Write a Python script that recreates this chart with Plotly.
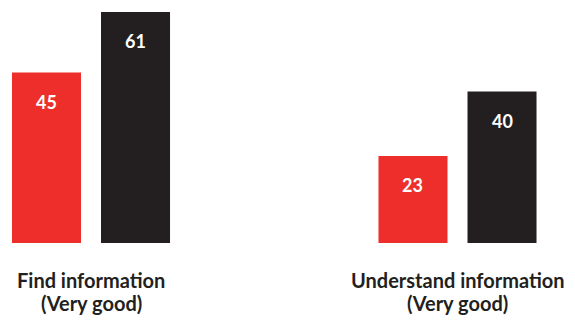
import plotly.graph_objects as go

# Survey results: share rating their ability as "very good"
categories = [("Find information", "(Very good)"), ("Understand information", "(Very good)")]
series_names = ["Group A", "Group B"]
series_a = [45, 23]
series_b = [61, 40]

RED = "#EE2E2A"
DARK = "#231F20"
FONT = "Lato"

# bar geometry in category units
BAR_W = 0.1883
OFF_A = -0.2156
OFF_B = 0.0273

fig = go.Figure()
for vals, name, color, off in [(series_a, series_names[0], RED, OFF_A),
                               (series_b, series_names[1], DARK, OFF_B)]:
    fig.add_trace(go.Bar(x=[0, 1], y=vals, name=name, width=BAR_W, offset=off,
                         marker=dict(color=color, line=dict(width=0))))
    # value label just inside the top of each bar
    for i, v in enumerate(vals):
        fig.add_annotation(x=i + off + BAR_W / 2, y=v, xref="x", yref="y",
                           text=f"<b>{v}</b>", showarrow=False, yshift=-29,
                           font=dict(family=FONT, size=18, color="white"))

# two-line category labels under each group
for i, (line1, line2) in enumerate(categories):
    for text, shift in [(line1, -37), (line2, -60)]:
        fig.add_annotation(x=i, y=0, xref="x", yref="paper", text=f"<b>{text}</b>",
                           showarrow=False, yanchor="middle", yshift=shift,
                           font=dict(family=FONT, size=20, color=DARK))

fig.update_layout(
    width=575, height=320,
    margin=dict(l=0, r=0, t=0, b=77),
    barmode="overlay",
    plot_bgcolor="white", paper_bgcolor="white",
    showlegend=False,
    xaxis=dict(range=[-0.2483, 1.3206], showticklabels=False,
               showgrid=False, zeroline=False, showline=False, ticks=""),
    yaxis=dict(range=[0, 64.17], visible=False),
)

fig.write_html("out.html")
